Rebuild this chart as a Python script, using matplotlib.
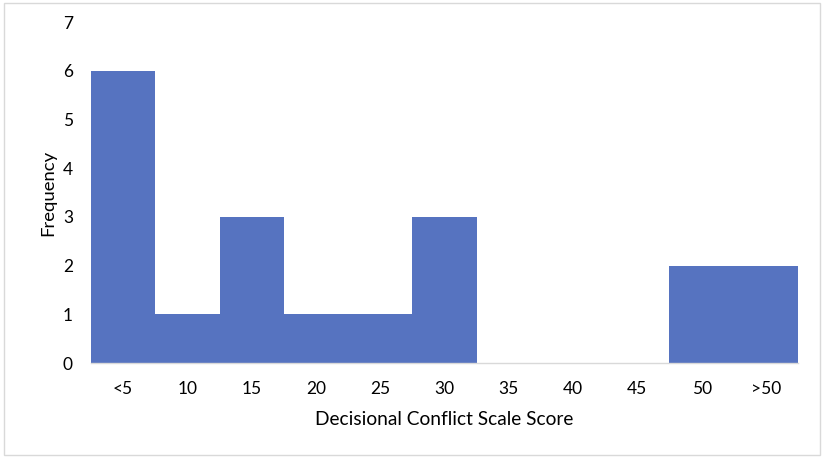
import matplotlib
matplotlib.use("Agg")
import matplotlib.pyplot as plt
from matplotlib.patches import Rectangle

categories = ["<5", "10", "15", "20", "25", "30", "35", "40", "45", "50", ">50"]
frequency = [6, 1, 3, 1, 1, 3, 0, 0, 0, 2, 2]

plt.rcParams['font.family'] = ['Lato', 'DejaVu Sans']

W, H = 824, 459
fig = plt.figure(figsize=(W / 100, H / 100), dpi=100)
ax = fig.add_axes([91 / W, 1 - 363 / H, (798 - 91) / W, (363 - 22) / H])

x = list(range(len(categories)))
ax.bar(x, frequency, width=1.0, color="#5673C0", edgecolor="none")
ax.set_xlim(-0.5, len(categories) - 0.5)
ax.set_ylim(0, 7)
ax.set_yticks(range(0, 8))
ax.set_xticks(x)
ax.set_xticklabels(categories)
ax.tick_params(axis="both", length=0, labelsize=12.5, colors="#000000")
ax.tick_params(axis="y", pad=13)
ax.tick_params(axis="x", pad=13)
for s in ["top", "right", "left"]:
    ax.spines[s].set_visible(False)
ax.spines["bottom"].set_color("#d9d9d9")
ax.spines["bottom"].set_linewidth(1.0)
ax.set_xlabel("Decisional Conflict Scale Score", fontsize=13.8, labelpad=10)
ax.set_ylabel("Frequency", fontsize=13.3, labelpad=5)

fig.patches.append(Rectangle((4 / W, 1 - 455 / H), 816 / W, 452 / H,
                             transform=fig.transFigure, fill=False,
                             edgecolor="#d9d9d9", linewidth=1.0))

fig.savefig("out.png", dpi=100)
